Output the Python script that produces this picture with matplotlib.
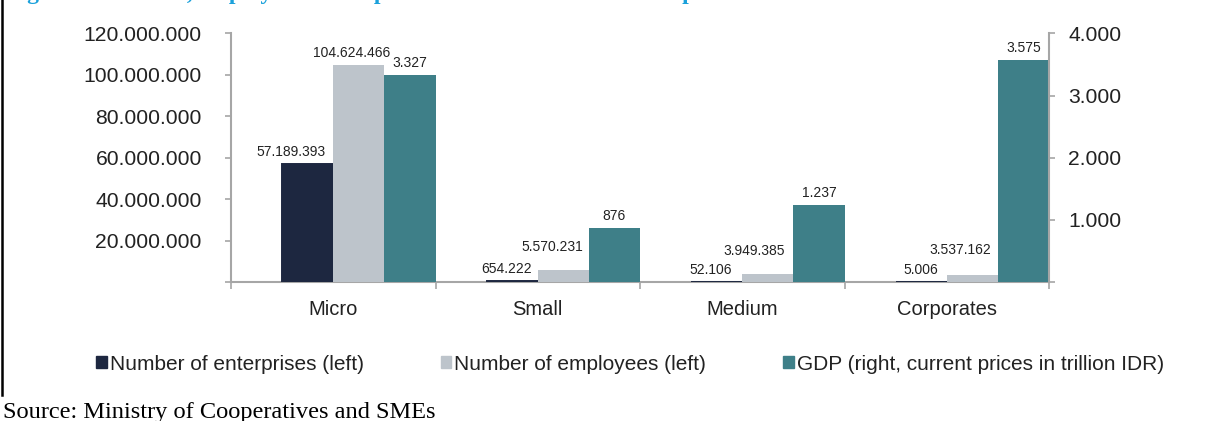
import matplotlib

matplotlib.use("Agg")

import matplotlib.pyplot as plt
from matplotlib.lines import Line2D
from matplotlib.patches import Patch
from matplotlib.ticker import FuncFormatter, MultipleLocator

categories = ["Micro", "Small", "Medium", "Corporates"]
enterprises = [57189393, 654222, 52106, 5006]
employees = [104624466, 5570231, 3949385, 3537162]
gdp_trillion = [3327, 876, 1237, 3575]

series_labels = [
    "Number of enterprises (left)",
    "Number of employees (left)",
    "GDP (right, current prices in trillion IDR)",
]

title = "Figure 5: MSMEs, employment and production of MSMEs and corporates"
source = "Source: Ministry of Cooperatives and SMEs"

DARK = "#1d2740"
GREY = "#bdc4cb"
TEAL = "#3e7f88"
SPINE = "#a6a6a6"
TEXT = "#222222"
SANS = "Liberation Sans"
SERIF = "Liberation Serif"

W, H = 1212, 421


def dotted(v, pos=None):
    # thousands separated by dots, zero left blank on the axes
    if pos is not None and v == 0:
        return ""
    return f"{int(round(v)):,}".replace(",", ".")


def style_axis(ax, side):
    for name, spine in ax.spines.items():
        spine.set_visible(name in (side, "bottom") if side == "left" else name == side)
        spine.set_color(SPINE)
        spine.set_linewidth(1.5)
    ax.tick_params(axis="y", colors=SPINE, labelcolor=TEXT, length=4, width=1.2,
                   direction="out", labelsize=15.2, pad=17 if side == "left" else 10)
    for lab in ax.get_yticklabels():
        lab.set_family(SANS)


def label_bar(ax, x, value, nudge=(0, 0)):
    ax.annotate(dotted(value), (x, value), xytext=(nudge[0], 5 + nudge[1]),
                textcoords="offset pixels", ha="center", va="bottom",
                fontsize=10, family=SANS, color=TEXT)


fig = plt.figure(figsize=(W / 100, H / 100), dpi=100)

left, right = 231 / W, 1049 / W
bottom, top = (H - 282) / H, (H - 33.5) / H
ax = fig.add_axes([left, bottom, right - left, top - bottom])
ax2 = ax.twinx()

bw = 0.25
xs = range(len(categories))
# an edge keeps the tiny counts visible as a line above the axis
ax.bar([i + 0.375 for i in xs], enterprises, width=bw, color=DARK,
       edgecolor=DARK, linewidth=1.4, zorder=3)
ax.bar([i + 0.625 for i in xs], employees, width=bw, color=GREY, linewidth=0, zorder=3)
ax2.bar([i + 0.875 for i in xs], gdp_trillion, width=bw, color=TEAL, linewidth=0)

ax.set_xlim(0, len(categories))
ax.set_ylim(0, 120_000_000)
ax2.set_ylim(0, 4000)
ax.yaxis.set_major_locator(MultipleLocator(20_000_000))
ax2.yaxis.set_major_locator(MultipleLocator(1000))
ax.yaxis.set_major_formatter(FuncFormatter(dotted))
ax2.yaxis.set_major_formatter(FuncFormatter(dotted))

# category separators below the axis, names centred in each slot
ax.set_xticks(range(len(categories) + 1))
ax.set_xticklabels([])
ax.tick_params(axis="x", which="major", colors=SPINE, length=5, width=1.2, direction="out")
ax.set_xticks([i + 0.5 for i in xs], minor=True)
ax.set_xticklabels(categories, minor=True, fontsize=14.5, family=SANS, color=TEXT)
ax.tick_params(axis="x", which="minor", length=0, pad=13)
ax2.tick_params(axis="x", which="both", length=0)

style_axis(ax, "left")
style_axis(ax2, "right")

# small grey labels sit higher so they clear the dark ones
dark_nudge = [(-17, 0), (-6, 0), (-6, 0), (0, 0)]
grey_nudge = [(-7, 0), (-11, 11), (-14, 11), (-12, 13)]
for i in xs:
    label_bar(ax, i + 0.375, enterprises[i], dark_nudge[i])
    label_bar(ax, i + 0.625, employees[i], grey_nudge[i])
    label_bar(ax2, i + 0.875, gdp_trillion[i])

handles = [Patch(color=c) for c in (DARK, GREY, TEAL)]
fig.legend(handles, series_labels, loc="center", bbox_to_anchor=(630 / W, 1 - 364 / H),
           ncol=3, frameon=False, prop={"family": SANS, "size": 15},
           handlelength=0.5, handleheight=0.5, handletextpad=0.15, columnspacing=3.7,
           labelcolor=TEXT)

fig.text(6 / W, 1 + 1 / H, title, ha="left", va="baseline", fontsize=17,
         family=SERIF, weight="bold", color="#1ba1db")
fig.text(3 / W, 3 / H, source, ha="left", va="baseline", fontsize=17.6,
         family=SERIF, color="black")
fig.add_artist(Line2D([2 / W, 2 / W], [1, 1 - 395 / H], color="black", linewidth=1.8,
                      transform=fig.transFigure))

fig.savefig("out.png", dpi=100, facecolor="white")
plt.close(fig)
